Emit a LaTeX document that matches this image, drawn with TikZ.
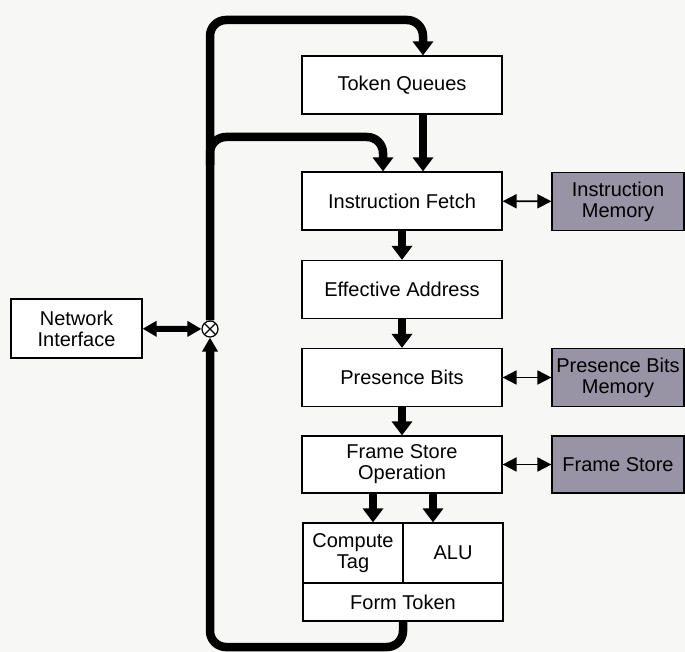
\documentclass[tikz,border=0pt]{standalone}
\usepackage{fontspec}
\setmainfont{Liberation Sans}
\usetikzlibrary{arrows.meta}

\definecolor{memgray}{RGB}{152,148,166}
\definecolor{paper}{RGB}{247,247,245}

\tikzset{
  stage/.style={draw, line width=1.2pt, fill=white, minimum width=200pt,
    minimum height=58pt, align=center, inner sep=0pt,
    font=\fontsize{20}{21}\selectfont},
  memory/.style={stage, fill=memgray, minimum width=132pt},
  flow/.style={line width=8.5pt, -{Triangle[width=20pt,length=14pt]}},
  bus/.style={line width=8.5pt, rounded corners=16pt},
  access/.style={line width=1.8pt,
    {Triangle[width=14pt,length=14pt]}-{Triangle[width=14pt,length=14pt]}},
  netlink/.style={line width=6pt,
    {Triangle[width=15pt,length=14pt]}-{Triangle[width=15pt,length=14pt]}},
}

\begin{document}
\begin{tikzpicture}

\useasboundingbox[fill=paper] (0pt,0pt) rectangle (685pt,-652pt);

%% Pipeline %%%%%%%%%%%%%%%%%%%%%%%
\node[stage] (tq) at (402pt,-85pt) {Token Queues};
\node[stage] (ifetch) at (402pt,-201pt) {Instruction Fetch};
\node[stage] (ea) at (402pt,-289.5pt) {Effective Address};
\node[stage] (pb) at (402pt,-377.5pt) {Presence Bits};
\node[stage, minimum height=57pt] (fso) at (402pt,-464.5pt) {Frame Store\\Operation};

%% last stage
\node[stage, minimum width=100pt, minimum height=60pt] (ctag) at (353pt,-553pt) {Compute\\Tag};
\node[stage, minimum width=100pt, minimum height=60pt] (alu) at (453pt,-553pt) {ALU};
\node[stage, minimum height=38pt] (ftok) at (403pt,-602pt) {Form Token};

%% Memories %%%%%%%%%%%%%%%%%%%%%%%
\node[memory] (im) at (618pt,-201.5pt) {Instruction\\Memory};
\node[memory] (pbm) at (618pt,-377.5pt) {Presence Bits\\Memory};
\node[memory, minimum height=57pt] (fs) at (618pt,-464.5pt) {Frame Store};

%% Network side
\node[stage, minimum width=131pt, minimum height=59pt] (ni) at (76.5pt,-328.5pt) {Network\\Interface};
\node[draw, circle, line width=1.2pt, fill=white, minimum size=16pt, inner sep=0pt,
  path picture={\draw[line width=1.2pt]
    (path picture bounding box.north west) -- (path picture bounding box.south east)
    (path picture bounding box.north east) -- (path picture bounding box.south west);}]
  (mix) at (210pt,-329pt) {};

%% Arrows between stages
\draw[flow] ([xshift=21pt]tq.south) -- ([xshift=21pt]ifetch.north);
\draw[flow] (ifetch) -- (ea);
\draw[flow] (ea) -- (pb);
\draw[flow] (pb) -- (fso);
\draw[flow] ([xshift=-29pt]fso.south) -- ([xshift=20pt]ctag.north);
\draw[flow] ([xshift=31pt]fso.south) -- ([xshift=-20pt]alu.north);

%% Memory access
\draw[access] (ifetch) -- (im);
\draw[access] (pb) -- (pbm);
\draw[access] (fso) -- (fs);

%% Token bus %%%%%%%%%%%%%%%%%%%%%%%
\coordinate (bustop) at (423pt,-20pt);
\coordinate (busfork) at (210pt,-165pt);
\coordinate (ifturn) at (383pt,-137pt);
\coordinate (busbot) at (403pt,-647pt);

\draw[bus, -{Triangle[width=20pt,length=14pt]}] (mix.north) |- (bustop) -- ([xshift=21pt]tq.north);
\draw[bus, -{Triangle[width=20pt,length=14pt]}] (busfork) |- (ifturn) -- ([xshift=-19pt]ifetch.north);
\draw[bus, -{Triangle[width=15pt,length=14pt]}] (ftok.south) -- (busbot) -| (mix.south);

\draw[netlink] (ni) -- (mix);

\end{tikzpicture}
\end{document}
